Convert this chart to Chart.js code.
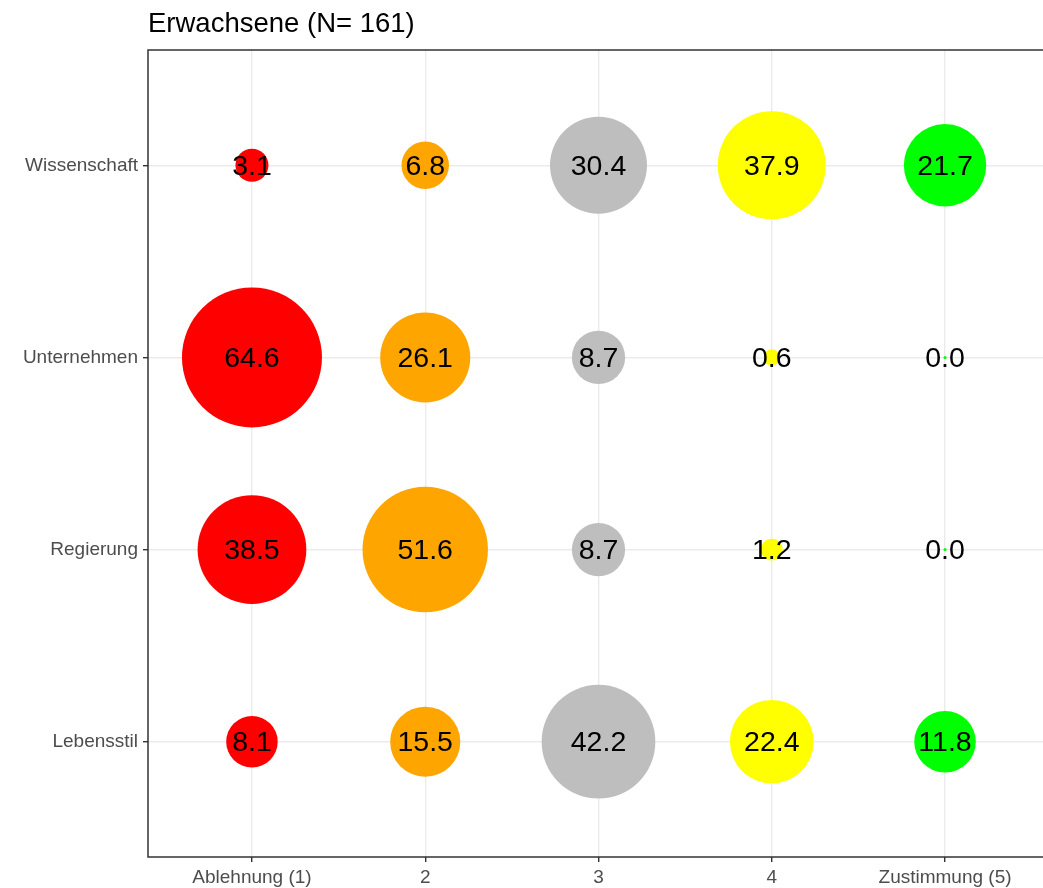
<!DOCTYPE html>
<html>
<head>
<meta charset="utf-8">
<script src="https://cdn.jsdelivr.net/npm/chart.js@4"></script>
<style>
  html, body { margin: 0; padding: 0; background: #fff; overflow: hidden; }
  #wrap { width: 1049px; height: 888px; }
</style>
</head>
<body>
<div id="wrap"><canvas id="chart" width="1049" height="888"></canvas></div>
<script>
// chart data
const chartTitle = "Erwachsene (N= 161)";
const xLabels = ["Ablehnung (1)", "2", "3", "4", "Zustimmung (5)"];
const topics = ["Wissenschaft", "Unternehmen", "Regierung", "Lebensstil"];
const wissenschaft = [3.1, 6.8, 30.4, 37.9, 21.7];
const unternehmen = [64.6, 26.1, 8.7, 0.6, 0.0];
const regierung = [38.5, 51.6, 8.7, 1.2, 0.0];
const lebensstil = [8.1, 15.5, 42.2, 22.4, 11.8];
const levelColors = ["#FF0000", "#FFA500", "#BEBEBE", "#FFFF00", "#00FF00"];

const rows = [wissenschaft, unternehmen, regierung, lebensstil];
const FONT = "'Liberation Sans', Arial, sans-serif";

// size scale like ggplot's area palette
const vMax = Math.max(...rows.flat());
const rMin = 1.5, rMax = 70;
function sizeOf(v) {
  return rMin + (rMax - rMin) * Math.sqrt(v / vMax);
}

// one dataset per answer level (colour by column)
const datasets = xLabels.map(function (lab, i) {
  return {
    label: lab,
    data: rows.map(function (row, j) {
      return { x: i + 1, y: j + 1, r: sizeOf(row[i]), v: row[i] };
    }),
    backgroundColor: levelColors[i],
    borderWidth: 0,
  };
});

// white page, title, value labels and panel border
const extras = {
  id: "extras",
  beforeDraw(chart) {
    const ctx = chart.ctx;
    ctx.save();
    ctx.fillStyle = "#fff";
    ctx.fillRect(0, 0, chart.width, chart.height);
    ctx.restore();
  },
  afterDatasetsDraw(chart) {
    const ctx = chart.ctx;
    const a = chart.chartArea;
    ctx.save();
    ctx.fillStyle = "#000";
    ctx.font = "28.5px " + FONT;
    ctx.textAlign = "center";
    ctx.textBaseline = "middle";
    chart.data.datasets.forEach(function (ds, i) {
      chart.getDatasetMeta(i).data.forEach(function (pt, j) {
        ctx.fillText(ds.data[j].v.toFixed(1), pt.x, pt.y + 1.5);
      });
    });
    ctx.strokeStyle = "#333333";
    ctx.lineWidth = 1.5;
    ctx.strokeRect(a.left, a.top, a.right - a.left, a.bottom - a.top);
    ctx.font = "27.5px " + FONT;
    ctx.textAlign = "left";
    ctx.textBaseline = "alphabetic";
    ctx.fillText(chartTitle, a.left, 32);
    ctx.restore();
  },
};

new Chart(document.getElementById("chart"), {
  type: "bubble",
  data: { datasets: datasets },
  options: {
    responsive: false,
    animation: false,
    events: [],
    layout: { autoPadding: false, padding: { top: 50, right: 0, bottom: 0, left: 0 } },
    plugins: { legend: { display: false }, tooltip: { enabled: false }, title: { display: false } },
    scales: {
      x: {
        type: "linear",
        min: 0.4,
        max: 5.6,
        afterBuildTicks: function (scale) {
          scale.ticks = xLabels.map(function (l, i) { return { value: i + 1 }; });
        },
        afterFit: function (scale) { scale.height = 31; },
        ticks: {
          autoSkip: false,
          maxRotation: 0,
          padding: 4,
          color: "#4D4D4D",
          font: { family: FONT, size: 19 },
          callback: function (v) { return xLabels[v - 1]; },
        },
        grid: { color: "#EBEBEB", lineWidth: 1.4, tickLength: 5, tickColor: "#333333", tickWidth: 1.4 },
        border: { display: false },
      },
      y: {
        type: "linear",
        reverse: true,
        min: 0.4,
        max: 4.6,
        afterBuildTicks: function (scale) {
          scale.ticks = topics.map(function (t, i) { return { value: i + 1 }; });
        },
        afterFit: function (scale) { scale.width = 148; },
        ticks: {
          autoSkip: false,
          padding: 5,
          color: "#4D4D4D",
          font: { family: FONT, size: 19 },
          callback: function (v) { return topics[v - 1]; },
        },
        grid: { color: "#EBEBEB", lineWidth: 1.4, tickLength: 5, tickColor: "#333333", tickWidth: 1.4 },
        border: { display: false },
      },
    },
  },
  plugins: [extras],
});
</script>
</body>
</html>
